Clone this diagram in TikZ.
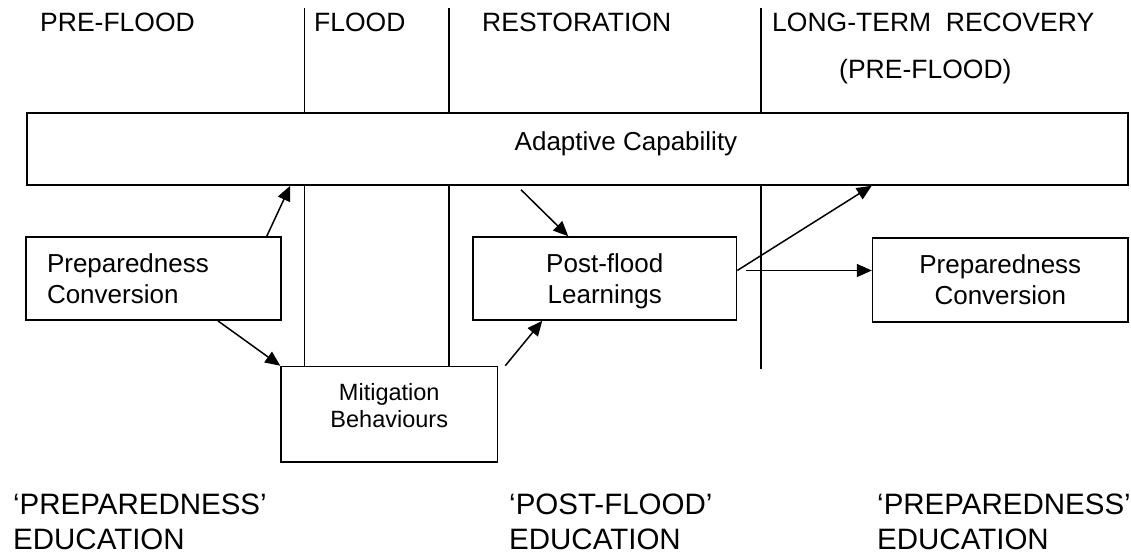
\documentclass[tikz,border=0pt]{standalone}
\usepackage{fontspec}
\setmainfont{Liberation Sans}
\usetikzlibrary{arrows.meta,backgrounds}

\begin{document}
\begin{tikzpicture}[
  x=1pt,y=-1pt,
  >={Triangle[length=15pt,width=13pt]},
  box/.style={draw,fill=white,line width=1.5pt,inner sep=0pt},
  phase/.style={font=\fontsize{26.5}{31}\selectfont,anchor=base west,inner sep=0pt},
  boxtext/.style={font=\fontsize{26}{31}\selectfont,align=center},
  mitext/.style={font=\fontsize{23.5}{27}\selectfont,align=center},
  edu/.style={font=\fontsize{29.5}{35}\selectfont,anchor=base west,align=left,inner sep=0pt},
  divider/.style={line width=1.4pt},
  arr/.style={->,line width=1.5pt},
]
\useasboundingbox (0,0) rectangle (1131,553);

\node[phase] (preflood) at (40,32) {PRE-FLOOD};
\node[phase] (flood) at (314,32) {FLOOD};
\node[phase] (restoration) at (482,32) {RESTORATION};
\node[phase] (recovery) at (772,32) {LONG-TERM\ \ RECOVERY};
\node[phase] (recoverynote) at (839,79) {(PRE-FLOOD)};

\node[box,minimum width=1101pt,minimum height=72pt,
  label={[boxtext,xshift=48.5pt,yshift=5pt]center:Adaptive Capability}] (adaptive) at (577.5,149) {};
\node[box,boxtext,align=left,minimum width=255pt,minimum height=83pt,text width=213pt,inner xsep=21pt] (prepL) at (153.5,278.5) {Preparedness\\Conversion};
\node[box,minimum width=216.5pt,minimum height=95.5pt,
  label={[mitext,yshift=9pt]center:Mitigation\\Behaviours}] (mitig) at (389.25,414.25) {};
\node[box,minimum width=263.5pt,minimum height=83pt,
  label={[boxtext,yshift=-3pt]center:Post-flood\\Learnings}] (postflood) at (604.75,278.5) {};
\node[box,boxtext,minimum width=255.5pt,minimum height=84pt] (prepR) at (1000.3,280) {Preparedness\\Conversion};

\node[edu] (eduL) at (13,549) {‘PREPAREDNESS’\\EDUCATION};
\node[edu] (eduM) at (509,549) {‘POST-FLOOD’\\EDUCATION};
\node[edu] (eduR) at (877,549) {‘PREPAREDNESS’\\EDUCATION};

\coordinate (dflood) at (304.5,8);
\coordinate (drest) at (449,8);
\coordinate (drecov) at (761,8);
\coordinate (drecovend) at (761,369);

\begin{scope}[on background layer]
  \draw[divider] (dflood) -- (dflood |- mitig.north);
  \draw[divider] (drest) -- (drest |- mitig.north);
  \draw[divider] (drecov) -- (drecovend);
\end{scope}

\draw[arr] ([xshift=-15pt]prepL.north east) -- ([xshift=264pt]adaptive.south west);
\draw[arr] ([xshift=-64pt]prepL.south east) -- (mitig.north west);
\draw[arr] ([xshift=7pt]mitig.north east) -- ([xshift=70pt]postflood.south west);
\draw[arr] ([xshift=-56.5pt,yshift=-4pt]adaptive.south) -- ([xshift=96pt]postflood.north west);
\draw[arr] ([yshift=8pt]postflood.east) -- ([xshift=-257pt]adaptive.south east);
\draw[arr] ([xshift=9pt,yshift=8pt]postflood.east) -- ([yshift=9.5pt]prepR.west);

\end{tikzpicture}
\end{document}
